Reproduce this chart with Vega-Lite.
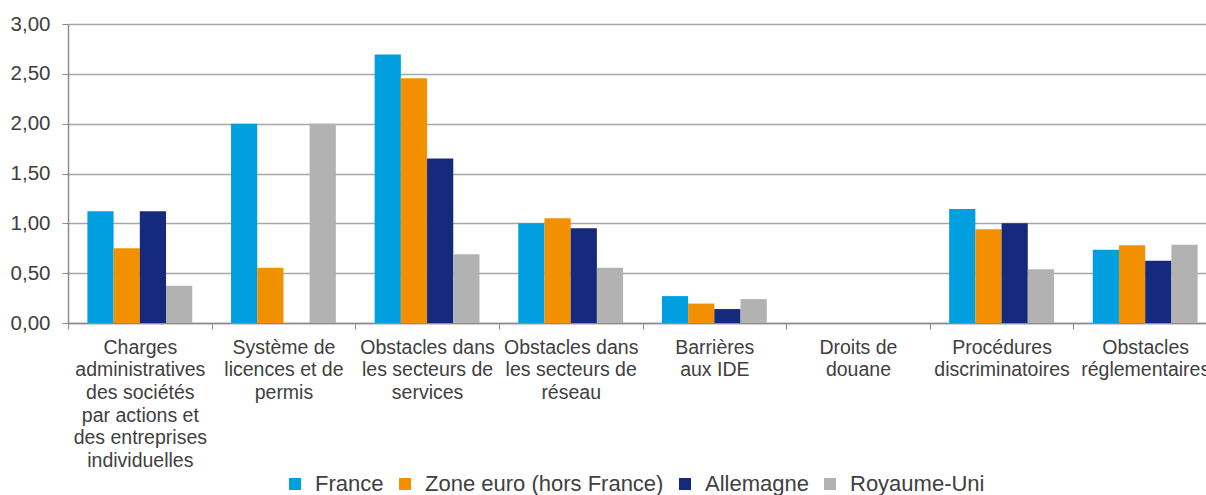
{
  "$schema": "https://vega.github.io/schema/vega-lite/v6.json",
  "autosize": {"type": "none"},
  "width": 1149,
  "height": 299,
  "padding": {"left": 68, "right": -11, "top": 24, "bottom": 172},
  "background": "white",
  "config": {
    "font": "Liberation Sans",
    "view": {"stroke": null}
  },
  "data": {
    "values": [
      {"cat": "Charges|administratives|des sociétés|par actions et|des entreprises|individuelles", "pays": "France", "v": 1.12},
      {"cat": "Charges|administratives|des sociétés|par actions et|des entreprises|individuelles", "pays": "Zone euro (hors France)", "v": 0.75},
      {"cat": "Charges|administratives|des sociétés|par actions et|des entreprises|individuelles", "pays": "Allemagne", "v": 1.12},
      {"cat": "Charges|administratives|des sociétés|par actions et|des entreprises|individuelles", "pays": "Royaume-Uni", "v": 0.375},
      {"cat": "Système de|licences et de|permis", "pays": "France", "v": 2.0},
      {"cat": "Système de|licences et de|permis", "pays": "Zone euro (hors France)", "v": 0.555},
      {"cat": "Système de|licences et de|permis", "pays": "Allemagne", "v": 0},
      {"cat": "Système de|licences et de|permis", "pays": "Royaume-Uni", "v": 2.0},
      {"cat": "Obstacles dans|les secteurs de|services", "pays": "France", "v": 2.695},
      {"cat": "Obstacles dans|les secteurs de|services", "pays": "Zone euro (hors France)", "v": 2.455},
      {"cat": "Obstacles dans|les secteurs de|services", "pays": "Allemagne", "v": 1.65},
      {"cat": "Obstacles dans|les secteurs de|services", "pays": "Royaume-Uni", "v": 0.69},
      {"cat": "Obstacles dans|les secteurs de|réseau", "pays": "France", "v": 1.0},
      {"cat": "Obstacles dans|les secteurs de|réseau", "pays": "Zone euro (hors France)", "v": 1.05},
      {"cat": "Obstacles dans|les secteurs de|réseau", "pays": "Allemagne", "v": 0.95},
      {"cat": "Obstacles dans|les secteurs de|réseau", "pays": "Royaume-Uni", "v": 0.555},
      {"cat": "Barrières|aux IDE", "pays": "France", "v": 0.27},
      {"cat": "Barrières|aux IDE", "pays": "Zone euro (hors France)", "v": 0.195},
      {"cat": "Barrières|aux IDE", "pays": "Allemagne", "v": 0.14},
      {"cat": "Barrières|aux IDE", "pays": "Royaume-Uni", "v": 0.24},
      {"cat": "Droits de|douane", "pays": "France", "v": 0},
      {"cat": "Droits de|douane", "pays": "Zone euro (hors France)", "v": 0},
      {"cat": "Droits de|douane", "pays": "Allemagne", "v": 0},
      {"cat": "Droits de|douane", "pays": "Royaume-Uni", "v": 0},
      {"cat": "Procédures|discriminatoires", "pays": "France", "v": 1.145},
      {"cat": "Procédures|discriminatoires", "pays": "Zone euro (hors France)", "v": 0.94},
      {"cat": "Procédures|discriminatoires", "pays": "Allemagne", "v": 1.0},
      {"cat": "Procédures|discriminatoires", "pays": "Royaume-Uni", "v": 0.54},
      {"cat": "Obstacles|réglementaires", "pays": "France", "v": 0.735},
      {"cat": "Obstacles|réglementaires", "pays": "Zone euro (hors France)", "v": 0.78},
      {"cat": "Obstacles|réglementaires", "pays": "Allemagne", "v": 0.625},
      {"cat": "Obstacles|réglementaires", "pays": "Royaume-Uni", "v": 0.785}
    ]
  },
  "mark": {"type": "bar"},
  "encoding": {
    "x": {
      "field": "cat",
      "type": "nominal",
      "sort": null,
      "title": null,
      "scale": {"paddingInner": 0, "paddingOuter": 0},
      "axis": {
        "labelExpr": "split(datum.label, '|')",
        "labelAngle": 0,
        "labelFontSize": 19.5,
        "labelLineHeight": 22.7,
        "labelColor": "#404040",
        "labelPadding": 9,
        "labelLimit": 300,
        "tickBand": "extent",
        "tickSize": 6,
        "tickColor": "#8c8c8c",
        "domainColor": "#8c8c8c",
        "domainWidth": 1.5,
        "grid": false
      }
    },
    "xOffset": {
      "field": "pays",
      "type": "nominal",
      "sort": ["France", "Zone euro (hors France)", "Allemagne", "Royaume-Uni"],
      "scale": {"paddingInner": 0, "paddingOuter": 0.74}
    },
    "y": {
      "field": "v",
      "type": "quantitative",
      "title": null,
      "scale": {"domain": [0, 3]},
      "axis": {
        "values": [0, 0.5, 1, 1.5, 2, 2.5, 3],
        "labelExpr": "replace(format(datum.value, '.2f'), '.', ',')",
        "labelFontSize": 20.5,
        "labelColor": "#404040",
        "labelPadding": 12,
        "tickSize": 6,
        "tickColor": "#8c8c8c",
        "domainColor": "#8c8c8c",
        "domainWidth": 1.5,
        "gridColor": "#a6a6a6",
        "gridWidth": 1.3
      }
    },
    "color": {
      "field": "pays",
      "type": "nominal",
      "sort": ["France", "Zone euro (hors France)", "Allemagne", "Royaume-Uni"],
      "scale": {
        "domain": ["France", "Zone euro (hors France)", "Allemagne", "Royaume-Uni"],
        "range": ["#00a0e0", "#f39000", "#152a7d", "#b2b2b2"]
      },
      "legend": {
        "title": null,
        "orient": "none",
        "direction": "horizontal",
        "legendX": 216,
        "legendY": 449,
        "symbolType": "square",
        "symbolSize": 144,
        "symbolStrokeWidth": 0,
        "symbolOpacity": 1,
        "labelFontSize": 22,
        "labelColor": "#404040",
        "labelOffset": 9,
        "columnPadding": 10,
        "labelLimit": 400
      }
    }
  }
}
